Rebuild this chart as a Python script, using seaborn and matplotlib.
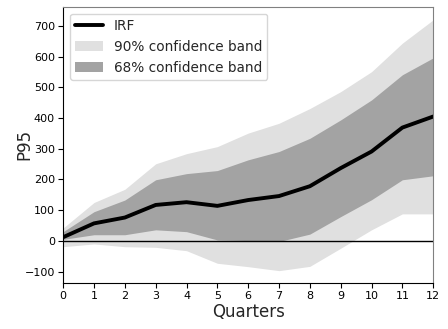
import numpy as np
import pandas as pd
import matplotlib
matplotlib.use('Agg')
import matplotlib.pyplot as plt
import seaborn as sns

quarters = np.arange(0, 13)
irf = [12, 57, 76, 117, 126, 114, 133, 146, 178, 237, 291, 369, 405]
upper68 = [30, 95, 133, 199, 219, 229, 264, 291, 334, 394, 459, 541, 596]
lower68 = [5, 20, 20, 36, 30, 3, 1, -2, 22, 79, 134, 199, 212]
upper90 = [42, 125, 168, 251, 284, 307, 351, 383, 431, 486, 551, 644, 720]
lower90 = [-19, -10, -19, -21, -32, -73, -84, -97, -83, -24, 36, 88, 88]

df = pd.DataFrame({'Quarters': quarters, 'IRF': irf})

sns.set_style('ticks')
fig = plt.figure(figsize=(4.48, 3.29), dpi=100)
ax = fig.add_axes([0.141, 0.140, 0.826, 0.839])

ax.fill_between(quarters, lower90, upper90, color='#e0e0e0', lw=0, label='90% confidence band')
ax.fill_between(quarters, lower68, upper68, color='#a3a3a3', lw=0, label='68% confidence band')
sns.lineplot(data=df, x='Quarters', y='IRF', color='black', lw=2.8, ax=ax, label='IRF')
ax.axhline(0, color='black', lw=1)

ax.set_xlim(0, 12)
ax.set_ylim(-137, 762)
ax.set_xticks(range(0, 13))
ax.set_yticks(range(-100, 701, 100))
ax.tick_params(labelsize=8, colors='black', length=3.5, pad=2.5)
ax.set_xlabel('Quarters', fontsize=12, labelpad=1)
ax.set_ylabel('P95', fontsize=12)
ax.yaxis.set_label_coords(-0.081, 0.5)

for s in ['top', 'right']:
    ax.spines[s].set_color('#808080')
    ax.spines[s].set_visible(True)
for s in ['left', 'bottom']:
    ax.spines[s].set_color('black')

h, l = ax.get_legend_handles_labels()
order = [l.index('IRF'), l.index('90% confidence band'), l.index('68% confidence band')]
ax.legend([h[i] for i in order], [l[i] for i in order], loc='upper left', fontsize=9.8,
          frameon=True, handlelength=2.0)

fig.savefig('out.png', dpi=100)
